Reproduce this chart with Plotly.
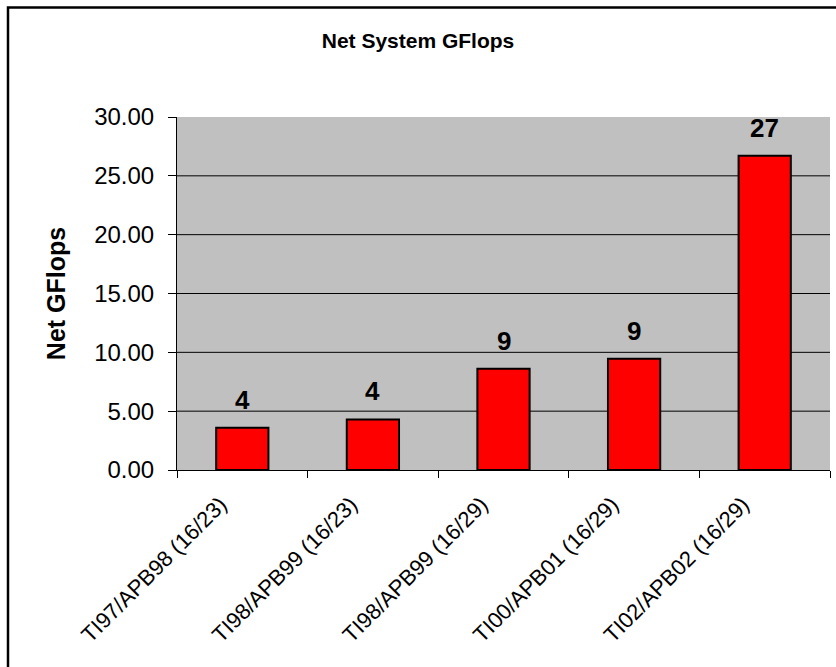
import plotly.graph_objects as go

# Net system throughput per machine configuration
categories = [
    "TI97/APB98 (16/23)",
    "TI98/APB99 (16/23)",
    "TI98/APB99 (16/29)",
    "TI00/APB01 (16/29)",
    "TI02/APB02 (16/29)",
]
gflops = [3.6, 4.3, 8.6, 9.45, 26.7]
y_ticks = [0, 5, 10, 15, 20, 25, 30]

W, H = 836, 667
ML, MR, MT, MB = 177, 6, 117, 197
FONT = "Liberation Sans, Arial, sans-serif"

fig = go.Figure(
    go.Bar(
        x=categories,
        y=gflops,
        marker=dict(color="#FF0000", line=dict(color="#000000", width=2)),
        hoverinfo="x+y",
    )
)

# value labels above each bar, rounded to whole GFlops
for cat, val in zip(categories, gflops):
    fig.add_annotation(
        x=cat, y=val, text=f"{val:.0f}", showarrow=False,
        yanchor="bottom", yshift=11,
        font=dict(family=FONT, size=26, color="#000000", weight="bold"),
    )

# horizontal gridlines inside the plot (none on the top edge)
for t in y_ticks[1:-1]:
    fig.add_shape(
        type="line", xref="paper", yref="y",
        x0=0, x1=1, y0=t, y1=t,
        line=dict(color="#000000", width=1), layer="below",
    )

# outer chart frame (px -> paper coordinates)
pw, ph = W - ML - MR, H - MT - MB
def px_x(v):
    return (v - ML) / pw
def px_y(v):
    return 1 - (v - MT) / ph

fig.add_shape(
    type="rect", xref="paper", yref="paper",
    x0=px_x(8), x1=px_x(W + 10), y0=px_y(H + 10), y1=px_y(7.5),
    line=dict(color="#000000", width=2.5), fillcolor="rgba(0,0,0,0)",
    layer="above",
)

fig.update_layout(
    width=W, height=H,
    margin=dict(l=ML, r=MR, t=MT, b=MB, autoexpand=False),
    paper_bgcolor="#FFFFFF",
    plot_bgcolor="#C0C0C0",
    bargap=0.6,
    showlegend=False,
    title=dict(
        text="Net System GFlops",
        x=0.5, xref="container", xanchor="center",
        y=1 - 40.5 / H, yref="container", yanchor="middle",
        font=dict(family=FONT, size=21, color="#000000", weight="bold"),
    ),
    xaxis=dict(
        type="category",
        tickangle=-45,
        tickson="boundaries",
        ticks="outside", ticklen=7, tickcolor="#000000", tickwidth=1,
        showline=True, linecolor="#000000", linewidth=1,
        showgrid=False,
        ticklabelshift=-22,
        ticklabelstandoff=12,
        tickfont=dict(family=FONT, size=22, color="#000000"),
    ),
    yaxis=dict(
        range=[0, 30],
        tickvals=y_ticks,
        tickformat=".2f",
        ticks="outside", ticklen=8, tickcolor="#000000", tickwidth=1,
        showline=True, linecolor="#000000", linewidth=1,
        showgrid=False,
        zeroline=False,
        ticklabelstandoff=9,
        tickfont=dict(family=FONT, size=24, color="#000000"),
        title=dict(
            text="Net GFlops", standoff=21,
            font=dict(family=FONT, size=25, color="#000000", weight="bold"),
        ),
    ),
)

fig.write_html("out.html")
